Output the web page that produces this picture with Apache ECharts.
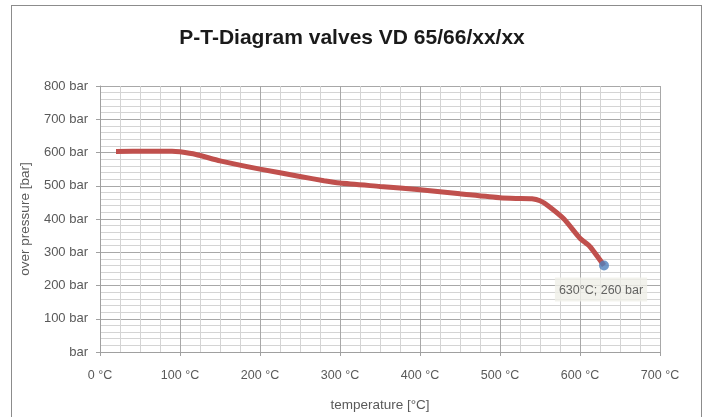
<!DOCTYPE html>
<html>
<head>
<meta charset="utf-8">
<script src="https://cdn.jsdelivr.net/npm/echarts@6/dist/echarts.min.js"></script>
<style>
html,body{margin:0;padding:0;background:#fff;}
#frame{position:absolute;left:11px;top:5px;width:691px;height:420px;border:1.5px solid #8c8c8c;box-sizing:border-box;}
#chart{position:absolute;left:0;top:0;width:704px;height:417px;}
</style>
</head>
<body>
<div id="frame"></div>
<div id="chart"></div>
<script>
const titleText = 'P-T-Diagram valves VD 65/66/xx/xx';
const xName = 'temperature [°C]';
const yName = 'over pressure [bar]';
const temperatures = [20, 60, 90, 100, 120, 150, 200, 250, 280, 300, 350, 400, 450, 500, 520, 540, 550, 560, 580, 600, 612, 630];
const pressures    = [603, 604, 604, 602, 594, 575, 550, 528, 515, 508, 498, 488, 476, 464, 462, 461, 455, 440, 400, 342, 318, 260];
const endLabel = '630°C; 260 bar';

const lineData = temperatures.map((t, i) => [t, pressures[i]]);
const lastIdx = temperatures.length - 1;
const endPoint = [[temperatures[lastIdx], pressures[lastIdx]]];

const chart = echarts.init(document.getElementById('chart'), null, {renderer: 'canvas'});
const labelFont = 'Liberation Sans, Arial, sans-serif';
chart.setOption({
  animation: false,
  backgroundColor: 'transparent',
  title: {
    text: titleText, left: 'center', top: 23,
    textStyle: {fontFamily: labelFont, fontWeight: 'bold', fontSize: 21, color: '#1a1a1a'}
  },
  grid: {left: 100, right: 44, top: 86, bottom: 63, containLabel: false},
  xAxis: {
    type: 'value', min: 0, max: 700, interval: 100,
    name: xName, nameLocation: 'middle', nameGap: 46,
    nameTextStyle: {fontFamily: labelFont, fontSize: 13.5, color: '#595959'},
    axisLine: {show: true, lineStyle: {color: '#a0a0a0'}},
    axisTick: {show: true, length: 4, lineStyle: {color: '#a0a0a0'}},
    axisLabel: {fontFamily: labelFont, fontSize: 12.5, color: '#595959', margin: 17, formatter: v => v + ' °C'},
    splitLine: {show: true, lineStyle: {color: '#a8a8a8', width: 1}},
    minorTick: {show: false, splitNumber: 4},
    minorSplitLine: {show: true, lineStyle: {color: '#d4d4d4', width: 1}}
  },
  yAxis: {
    type: 'value', min: 0, max: 800, interval: 100,
    name: yName, nameLocation: 'middle', nameGap: 68, nameRotate: 90,
    nameTextStyle: {fontFamily: labelFont, fontSize: 13.5, color: '#595959'},
    axisLine: {show: true, lineStyle: {color: '#a0a0a0'}},
    axisTick: {show: true, length: 4, lineStyle: {color: '#a0a0a0'}},
    axisLabel: {fontFamily: labelFont, fontSize: 13, color: '#595959', margin: 12,
      formatter: v => v === 0 ? 'bar' : v + ' bar'},
    splitLine: {show: true, lineStyle: {color: '#a8a8a8', width: 1}},
    minorTick: {show: false, splitNumber: 5},
    minorSplitLine: {show: true, lineStyle: {color: '#d4d4d4', width: 1}}
  },
  series: [
    {
      type: 'line', data: lineData, smooth: 0.2, showSymbol: false,
      lineStyle: {color: '#c0504d', width: 5}, z: 3
    },
    {
      type: 'scatter', data: endPoint, symbol: 'circle', symbolSize: 10,
      itemStyle: {color: '#4f81bd'}, z: 4,
      label: {
        show: true, position: 'bottom', distance: 7, offset: [-3, 0],
        formatter: () => endLabel,
        fontFamily: labelFont, fontSize: 12.5, color: '#404040',
        backgroundColor: '#efefe7', padding: [6, 4, 5, 4]
      }
    }
  ]
});
</script>
</body>
</html>
